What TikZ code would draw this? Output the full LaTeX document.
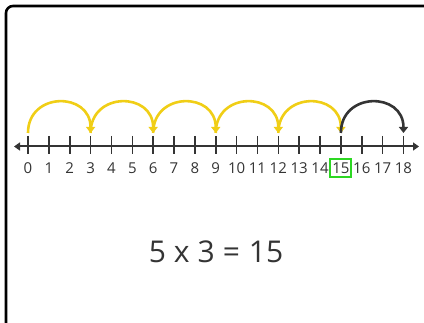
\documentclass[tikz,border=0pt]{standalone}
\usepackage{fontspec}
\setmainfont{Open Sans}
\usetikzlibrary{arrows.meta}
\definecolor{jumpyellow}{RGB}{240,206,22}
\definecolor{linegray}{RGB}{52,52,52}
\definecolor{boxgreen}{RGB}{45,215,35}

\begin{document}
\begin{tikzpicture}[x=1pt,y=1pt,
    tick/.style={linegray, line width=1.6pt},
    num/.style={font=\fontsize{15}{15}\selectfont, text=linegray, inner sep=0pt},
    jump/.style={-{Triangle[length=6pt,width=9pt]}, line width=2.6pt, jumpyellow, out=90, in=90, looseness=1.7},
    hlbox/.style={draw=boxgreen, line width=2pt, minimum width=21pt, minimum height=18pt},
    eq/.style={font=\fontsize{30}{30}\selectfont, text=linegray}
]
\useasboundingbox (0,0) rectangle (424,323);
\clip (0,0) rectangle (424,323);
% frame
\draw[line width=2.6pt, rounded corners=7pt] (6,-20) |- (450,317);

% axis
\coordinate (left) at (14,176.5);
\coordinate (right) at (419,176.5);
\draw[linegray, line width=2pt, {Triangle[length=6pt,width=8pt]}-{Triangle[length=6pt,width=8pt]}] (left) -- (right);

\foreach \i in {0,...,18} {
  \pgfmathsetmacro{\x}{28+20.86*\i}
  \draw[tick] (\x,187) -- (\x,169);
  \coordinate (j\i) at (\x,190);
  \node[num] (n\i) at (\x,155) {\i};
}
\node[hlbox] (hl) at (n15) {};

% jumps of 3
\foreach \a/\b in {0/3,3/6,6/9,9/12,12/15}
  \draw[jump] (j\a) to (j\b);
\draw[jump, linegray] (j15) to (j18);

\node[eq] (eq) at (216,71) {5\hspace{8pt}x\hspace{8pt}3\hspace{8pt}=\hspace{9pt}15};
\end{tikzpicture}
\end{document}
